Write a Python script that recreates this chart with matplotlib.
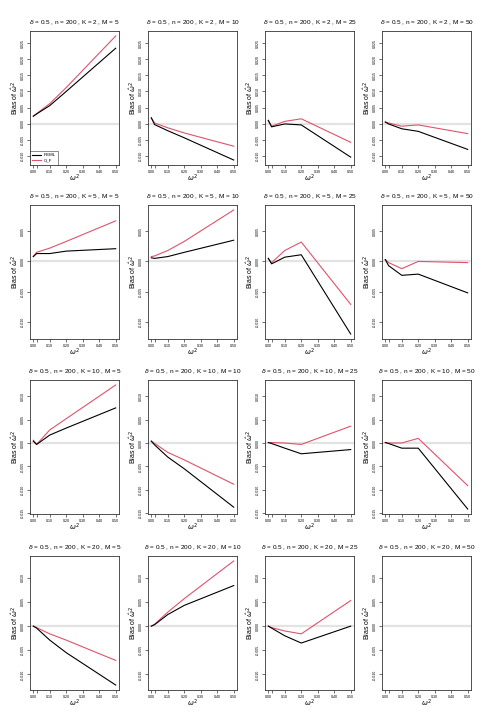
import numpy as np
import matplotlib
matplotlib.use("Agg")
import matplotlib.pyplot as plt

plt.rcParams['font.family'] = ['Liberation Sans', 'DejaVu Sans']
plt.rcParams['mathtext.fontset'] = 'dejavusans'

# simulation settings
delta = 0.5
n = 200
K_values = [2, 5, 10, 20]
M_values = [5, 10, 25, 50]
omega2 = [0.0, 0.02, 0.1, 0.2, 0.5]

# bias of omega^2 hat, one list per M (5, 10, 25, 50)
reml_K2 = [[0.0023, 0.0030, 0.0056, 0.0100, 0.0234],
           [0.0018, -0.0003, -0.0022, -0.0044, -0.0113],
           [0.0010, -0.0010, -0.0001, -0.0004, -0.0104],
           [0.0005, -0.0001, -0.0016, -0.0024, -0.0080]]
glf_K2 = [[0.0023, 0.0031, 0.0062, 0.0112, 0.0272],
          [0.0018, 0.0002, -0.0013, -0.0029, -0.0070],
          [0.0010, -0.0008, 0.0007, 0.0015, -0.0058],
          [0.0005, 0.0002, -0.0008, -0.0004, -0.0031]]

reml_K5 = [[0.0008, 0.0013, 0.0013, 0.0017, 0.0021],
           [0.0006, 0.0005, 0.0008, 0.0015, 0.0035],
           [0.0005, -0.0004, 0.0007, 0.0011, -0.0120],
           [0.0003, -0.0007, -0.0023, -0.0021, -0.0052]]
glf_K5 = [[0.0008, 0.0015, 0.0022, 0.0033, 0.0067],
          [0.0008, 0.0009, 0.0018, 0.0033, 0.0085],
          [0.0005, -0.0002, 0.0018, 0.0032, -0.0071],
          [0.0003, -0.0002, -0.0012, 0.0000, -0.0002]]

reml_K10 = [[0.0004, -0.0003, 0.0017, 0.0032, 0.0075],
            [0.0004, -0.0004, -0.0030, -0.0055, -0.0137],
            [0.0001, -0.0001, -0.0011, -0.0023, -0.0014],
            [0.0001, -0.0001, -0.0011, -0.0011, -0.0141]]
glf_K10 = [[0.0006, -0.0003, 0.0028, 0.0052, 0.0124],
           [0.0004, -0.0001, -0.0020, -0.0036, -0.0088],
           [0.0001, 0.0001, 0.0000, -0.0003, 0.0036],
           [0.0001, 0.0000, 0.0000, 0.0010, -0.0091]]

reml_K20 = [[0.0000, -0.0004, -0.0029, -0.0055, -0.0122],
            [0.0000, 0.0003, 0.0024, 0.0043, 0.0084],
            [0.0000, -0.0004, -0.0020, -0.0035, 0.0000],
            None]
glf_K20 = [[0.0000, -0.0003, -0.0016, -0.0029, -0.0071],
           [0.0000, 0.0004, 0.0029, 0.0057, 0.0135],
           [0.0000, -0.0003, -0.0010, -0.0016, 0.0053],
           None]

reml_rows = [reml_K2, reml_K5, reml_K10, reml_K20]
glf_rows = [glf_K2, glf_K5, glf_K10, glf_K20]

xticks = [0.0, 0.02, 0.1, 0.2, 0.3, 0.4, 0.5]
xticklabels = ['0.00', '', '0.10', '0.20', '0.30', '0.40', '0.50']

RED = '#DF536B'
W, H = 495, 726
col_left = [30, 148, 265, 382]
row_top = [31, 205, 380, 556]
ax_w, ax_h = 89, 134

fig = plt.figure(figsize=(W / 100, H / 100), dpi=100)

for i, K in enumerate(K_values):
    # shared y range within a row, R style 4% padding
    vals = [v for s in reml_rows[i] + glf_rows[i] if s is not None for v in s]
    lo, hi = min(vals), max(vals)
    pad = 0.04 * (hi - lo)
    for j, M in enumerate(M_values):
        ax = fig.add_axes([col_left[j] / W, 1 - (row_top[i] + ax_h) / H,
                           ax_w / W, ax_h / H])
        ax.axhline(0, color='#E3E3E3', lw=1.6, zorder=1)
        if reml_rows[i][j] is not None:
            ax.plot(omega2, reml_rows[i][j], color='black', lw=0.8, label='REML', zorder=3)
            ax.plot(omega2, glf_rows[i][j], color=RED, lw=0.8, label='G_F', zorder=2)
        ax.set_xlim(-0.02, 0.52)
        ax.set_ylim(lo - pad, hi + pad)
        ax.set_xticks(xticks)
        ax.set_xticklabels(xticklabels)
        ax.yaxis.set_major_locator(plt.MultipleLocator(0.005))
        ax.yaxis.set_major_formatter(plt.FormatStrFormatter('%.3f'))
        ax.tick_params(axis='both', labelsize=2.6, length=2, width=0.4, pad=1.5)
        for lab in ax.get_yticklabels():
            lab.set_rotation(90)
            lab.set_va('center')
        for sp in ax.spines.values():
            sp.set_linewidth(0.6)
            sp.set_color('#333333')
        ax.set_title(r'$\delta$ = %s , n = %d , K = %d , M = %d' % (delta, n, K, M),
                     fontsize=4.6, pad=5)
        ax.set_xlabel(r'$\omega^2$', fontsize=5)
        ax.xaxis.set_label_coords(0.5, -0.055)
        ax.set_ylabel(r'Bias of $\hat{\omega}^2$', fontsize=5)
        ax.yaxis.set_label_coords(-0.1, 0.5)
        if i == 0 and j == 0:
            leg = ax.legend(loc='lower left', fontsize=3.2, frameon=True, fancybox=False,
                            borderaxespad=0.1, handlelength=2, handletextpad=0.6,
                            borderpad=0.4, labelspacing=0.3)
            leg.get_frame().set_edgecolor('black')
            leg.get_frame().set_linewidth(0.4)

fig.savefig('out.png', dpi=100)
